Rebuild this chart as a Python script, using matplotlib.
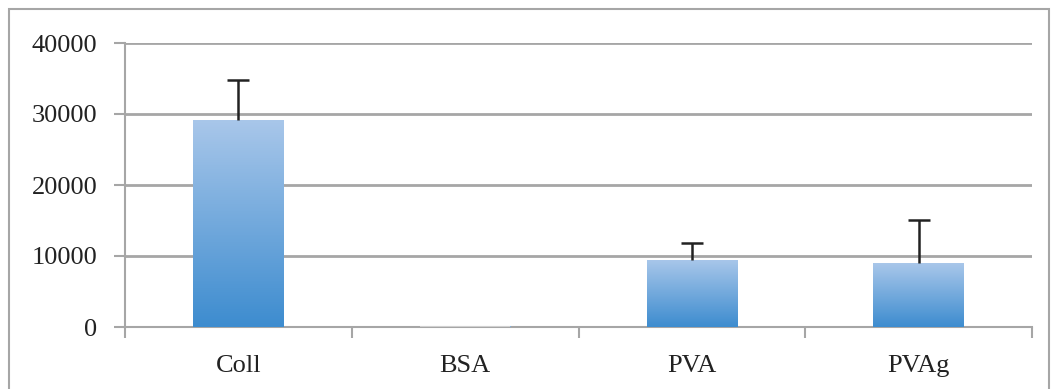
import numpy as np
import matplotlib
matplotlib.use("Agg")
import matplotlib.pyplot as plt
from matplotlib.colors import LinearSegmentedColormap
from matplotlib.patches import Rectangle

categories = ["Coll", "BSA", "PVA", "PVAg"]
values = [29200, 120, 9500, 9000]
errors = [5600, 0, 2300, 6100]
yticks = [0, 10000, 20000, 30000, 40000]

W, H = 1056, 389
fig = plt.figure(figsize=(W / 100, H / 100), dpi=100)
plt.rcParams['font.family'] = ['Liberation Serif', 'DejaVu Serif']

# outer chart frame (open at bottom, as in the reference)
fig.patches.append(Rectangle((9 / W, -0.1), (1049 - 9) / W, (H - 9) / H + 0.1,
                             transform=fig.transFigure, fill=False,
                             edgecolor='#a6a6a6', linewidth=1.5))

ax = fig.add_axes([125 / W, (H - 327) / H, (1032 - 125) / W, (327 - 43) / H])
x = np.arange(len(categories))
bars = ax.bar(x, values, width=0.40, color='#6fa3dc', zorder=2)

cmap = LinearSegmentedColormap.from_list('g', ['#3d8ccf', '#a9c7ea'])
grad = np.linspace(0, 1, 256).reshape(-1, 1)
for b in bars:
    x0, y0 = b.get_x(), b.get_y()
    w, h = b.get_width(), b.get_height()
    im = ax.imshow(grad, cmap=cmap, aspect='auto', origin='lower',
                   extent=[x0, x0 + w, y0, y0 + h], zorder=3)
    im.set_clip_path(b)
ax.bar(x[1], values[1], width=0.40, color='#d0d0d0', zorder=3)

# upper-only error bars
tops = np.array(values) + np.array(errors)
has_err = np.array(errors) > 0
ax.vlines(x[has_err], np.array(values)[has_err], tops[has_err],
          color='#222222', linewidth=1.8, zorder=4)
ax.plot(x[has_err], tops[has_err], linestyle='none', marker='_',
        markersize=16, markeredgewidth=1.8, color='#222222', zorder=4)

ax.set_xlim(-0.5, len(categories) - 0.5)
ax.set_ylim(0, 40000)
ax.set_yticks(yticks)
ax.set_yticklabels([str(t) for t in yticks], fontsize=19, color='#222222')
ax.set_xticks(x)
ax.set_xticklabels(categories, fontsize=19, color='#222222')
ax.set_xticks(np.arange(len(categories) + 1) - 0.5, minor=True)
ax.tick_params(axis='x', which='major', length=0, pad=20)
ax.tick_params(axis='x', which='minor', length=8, width=1.5, color='#a6a6a6')
ax.tick_params(axis='y', length=8, width=1.5, color='#a6a6a6', pad=12)
ax.grid(axis='y', color='#a6a6a6', linewidth=2, zorder=0)
ax.set_axisbelow(True)
for s in ['top', 'right']:
    ax.spines[s].set_visible(False)
for s in ['left', 'bottom']:
    ax.spines[s].set_color('#a6a6a6')
    ax.spines[s].set_linewidth(1.5)

fig.savefig('out.png', dpi=100)
